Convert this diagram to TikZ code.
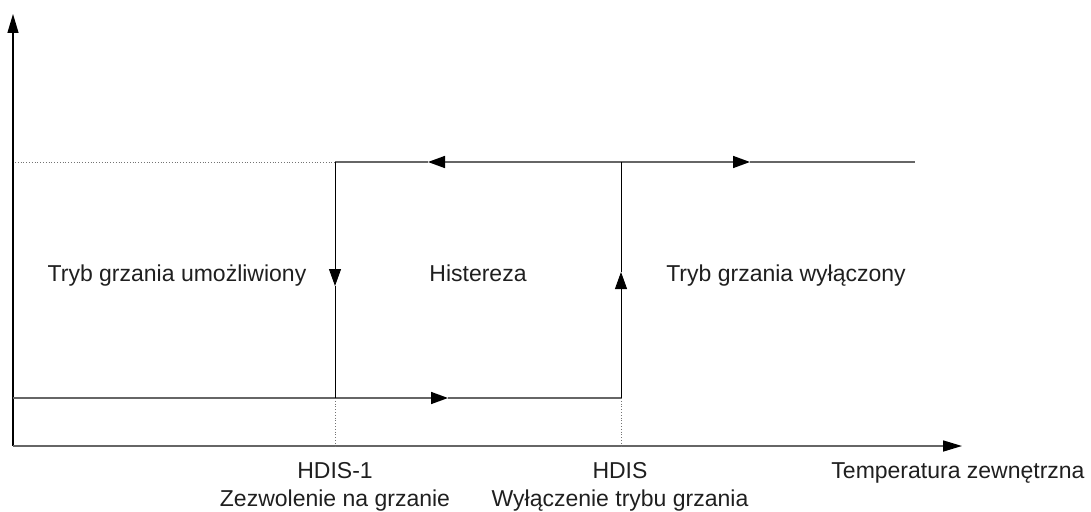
\documentclass[tikz,border=0pt]{standalone}
\usepackage{fontspec}
\setmainfont{Liberation Sans}
\usetikzlibrary{arrows.meta}

\begin{document}
\begin{tikzpicture}[x=1pt, y=-1pt,
  every node/.style={font=\fontsize{23}{28}\selectfont, text=black!88, inner sep=0pt},
  lbl/.style={anchor=base},
  tick/.style={anchor=north, align=center},
  hline/.style={draw=black!60, line width=1.6pt},
  vline/.style={draw=black, line width=0.9pt},
  guide/.style={draw=black!55, line width=0.8pt, dotted},
  tip/.style={-{Triangle[length=17pt, width=12pt, color=black]}},
  axis/.style={-{Triangle[length=19pt, width=11pt, color=black]}},
]
  \useasboundingbox (0,0) rectangle (1091,511);

  % axes
  \coordinate (o)    at (13,446);
  \coordinate (ytop) at (13,14);
  \coordinate (xend) at (962,446);
  \draw[vline, line width=1.3pt, axis] (o) -- (ytop);
  \draw[hline, axis] (o) -- (xend);

  % hysteresis loop
  \coordinate (on)   at (335,162);
  \coordinate (off)  at (621,162);
  \coordinate (hi)   at (915,162);
  \coordinate (dl)   at (15,162);
  \coordinate (lo)   at (13,398);
  \coordinate (onlo) at (335,398);
  \coordinate (offlo) at (621,398);
  \coordinate (onx)  at (335,446);
  \coordinate (offx) at (621,446);

  \coordinate (m1) at (428,162);
  \coordinate (m2) at (750,162);
  \coordinate (m3) at (335,286);
  \coordinate (m4) at (621,272);
  \coordinate (m5) at (448,398);

  \draw[guide] (dl) -- (on);
  \draw[guide] (onlo) -- (onx);
  \draw[guide] (offlo) -- (offx);

  \draw[hline, tip] (off) -- (m1);
  \draw[hline] (m1) -- (on);
  \draw[hline, tip] (off) -- (m2);
  \draw[hline] (m2) -- (hi);
  \draw[hline, tip] (lo) -- (m5);
  \draw[hline] (m5) -- (offlo);
  \draw[vline, tip] (on) -- (m3);
  \draw[vline] (m3) -- (onlo);
  \draw[vline, tip] (offlo) -- (m4);
  \draw[vline] (m4) -- (off);

  % labels
  \node[lbl] (enabled)  at (177,281) {Tryb grzania umożliwiony};
  \node[lbl] (hyst)     at (478,281) {Histereza};
  \node[lbl] (disabled) at (786,281) {Tryb grzania wyłączony};

  \node[tick] (hdisA) at (335,462) {HDIS-1\\Zezwolenie na grzanie};
  \node[tick] (hdisB) at (620,462) {HDIS\\Wyłączenie trybu grzania};
  \node[lbl]  (temp)  at (958,478) {Temperatura zewnętrzna};
\end{tikzpicture}
\end{document}
